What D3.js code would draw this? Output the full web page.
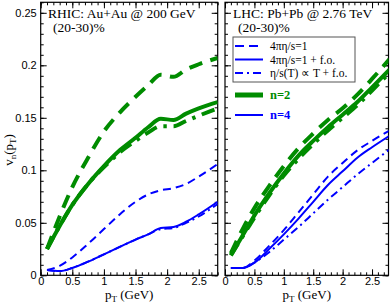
<!DOCTYPE html>
<html>
<head>
<meta charset="utf-8">
<script src="https://cdn.jsdelivr.net/npm/d3@7"></script>
<style>
  body { margin: 0; background: #fff; }
  svg { display: block; font-family: 'Liberation Serif', 'Times New Roman', serif; }
  .tick text { font-size: 11px; fill: #000; }
</style>
</head>
<body>
<div class="d3-wrapper"></div>
<script>
const WIDTH = 391, HEIGHT = 305;
const GREEN = '#008c00', BLUE = '#0000ff';

// RHIC Au+Au 200 GeV
const rhicPt = [0.1, 0.3, 0.5, 0.75, 1.0, 1.25, 1.5, 1.7, 1.9, 2.1, 2.3, 2.5, 2.8];
const rhicN2Ideal = [0.025, 0.056, 0.084, 0.112, 0.137, 0.155, 0.170, 0.181, 0.191, 0.189, 0.196, 0.201, 0.207];
const rhicN2Visc  = [0.025, 0.047, 0.067, 0.087, 0.104, 0.119, 0.131, 0.141, 0.149, 0.148, 0.154, 0.159, 0.165];
const rhicN2Tdep  = [0.025, 0.047, 0.067, 0.087, 0.103, 0.117, 0.128, 0.136, 0.142, 0.142, 0.147, 0.152, 0.159];
const rhicN4Ideal = [0.005, 0.009, 0.017, 0.030, 0.044, 0.058, 0.070, 0.077, 0.081, 0.083, 0.087, 0.094, 0.106];
const rhicN4Visc  = [0.005, 0.004, 0.007, 0.013, 0.020, 0.027, 0.034, 0.039, 0.045, 0.046, 0.051, 0.058, 0.070];
const rhicN4Tdep  = [0.005, 0.004, 0.007, 0.013, 0.020, 0.027, 0.034, 0.039, 0.044, 0.045, 0.050, 0.056, 0.068];

// LHC Pb+Pb 2.76 TeV
const lhcPt = [0.1, 0.3, 0.5, 0.75, 1.0, 1.25, 1.5, 1.75, 2.0, 2.25, 2.5, 2.8];
const lhcN2Ideal = [0.021, 0.044, 0.064, 0.085, 0.104, 0.121, 0.135, 0.148, 0.159, 0.172, 0.187, 0.206];
const lhcN2Visc  = [0.019, 0.038, 0.057, 0.078, 0.097, 0.114, 0.128, 0.141, 0.153, 0.165, 0.179, 0.196];
const lhcN2Tdep  = [0.019, 0.037, 0.055, 0.076, 0.095, 0.111, 0.125, 0.138, 0.150, 0.162, 0.176, 0.193];
const lhcN4Ideal = [0.007, 0.007, 0.014, 0.028, 0.043, 0.060, 0.077, 0.094, 0.107, 0.119, 0.128, 0.138];
const lhcN4Visc  = [0.007, 0.007, 0.012, 0.025, 0.039, 0.054, 0.070, 0.086, 0.099, 0.112, 0.122, 0.133];
const lhcN4Tdep  = [0.007, 0.007, 0.012, 0.022, 0.034, 0.046, 0.059, 0.072, 0.084, 0.096, 0.107, 0.120];

const yTicks = [0, 0.05, 0.1, 0.15, 0.2, 0.25];
const xTicks = [0, 0.5, 1, 1.5, 2, 2.5];
const legendLabels = ['4\u03c0\u03b7/s=1', '4\u03c0\u03b7/s=1 + f.o.', '\u03b7/s(T) \u221d T + f.o.'];

const STYLES = {
  ideal: '8,5',
  visc: null,
  tdep: '8,4,2,4'
};

const TOP = 2.3, BOTTOM = 275.3;
const yScale = d3.scaleLinear().domain([0, 0.26]).range([BOTTOM, TOP]);

const svg = d3.select('.d3-wrapper').append('svg')
  .attr('width', WIDTH).attr('height', HEIGHT);

function drawPanel(opts) {
  const x = d3.scaleLinear().domain(opts.xDomain).range(opts.xRange);
  const g = svg.append('g');
  const [x0, x1] = opts.xRange;
  const minorY = d3.range(0, 0.2601, 0.01);
  const minorX = d3.range(0, opts.xDomain[1] + 1e-6, 0.1);

  // inward ticks on all sides
  const tickSet = (axisFn, scale, vals, size, transform) => {
    g.append('g').attr('transform', transform)
      .call(axisFn(scale).tickValues(vals).tickSize(size).tickFormat('').tickSizeOuter(0))
      .call(a => a.select('.domain').remove());
  };
  tickSet(d3.axisRight, yScale, yTicks, 6, `translate(${x0},0)`);
  tickSet(d3.axisRight, yScale, minorY, 3, `translate(${x0},0)`);
  tickSet(d3.axisLeft, yScale, yTicks, 6, `translate(${x1},0)`);
  tickSet(d3.axisLeft, yScale, minorY, 3, `translate(${x1},0)`);
  tickSet(d3.axisTop, x, xTicks, 6, `translate(0,${BOTTOM})`);
  tickSet(d3.axisTop, x, minorX, 3, `translate(0,${BOTTOM})`);
  tickSet(d3.axisBottom, x, xTicks, 6, `translate(0,${TOP})`);
  tickSet(d3.axisBottom, x, minorX, 3, `translate(0,${TOP})`);

  // x labels
  g.append('g').attr('transform', `translate(0,${BOTTOM})`)
    .call(d3.axisBottom(x).tickValues(xTicks).tickSize(0).tickPadding(2).tickFormat(d3.format('')))
    .call(a => a.select('.domain').remove());

  if (opts.yLabels) {
    g.append('g').attr('transform', `translate(${x0},0)`)
      .call(d3.axisLeft(yScale).tickValues(yTicks).tickSize(0).tickPadding(4).tickFormat(d3.format('')))
      .call(a => a.select('.domain').remove());
  }

  g.append('rect')
    .attr('x', x0).attr('y', TOP)
    .attr('width', x1 - x0).attr('height', BOTTOM - TOP)
    .attr('fill', 'none').attr('stroke', '#000').attr('stroke-width', 1.2);

  const line = d3.line().x(d => x(d[0])).y(d => yScale(d[1])).curve(d3.curveMonotoneX);
  const clip = 'clip' + opts.id;
  svg.append('clipPath').attr('id', clip).append('rect')
    .attr('x', x0).attr('y', TOP).attr('width', x1 - x0).attr('height', BOTTOM - TOP);
  const curves = g.append('g').attr('clip-path', `url(#${clip})`);
  opts.series.forEach(s => {
    curves.append('path')
      .datum(opts.pt.map((p, i) => [p, s.values[i]]))
      .attr('d', line)
      .attr('fill', 'none')
      .attr('stroke', s.color)
      .attr('stroke-width', s.color === GREEN ? 4 : 2)
      .attr('stroke-dasharray', s.color === GREEN && STYLES[s.style]
        ? STYLES[s.style].split(',').map(v => v * 1.7).join(',')
        : STYLES[s.style]);
  });

  // x title
  const xt = g.append('text')
    .attr('x', (x0 + x1) / 2).attr('y', 299)
    .attr('text-anchor', 'middle').attr('font-size', 13);
  xt.append('tspan').text('p');
  xt.append('tspan').attr('font-size', 9).attr('dy', 3).text('T');
  xt.append('tspan').attr('dy', -3).text(' (GeV)');

  g.append('text').attr('x', opts.titleX).attr('y', 18).attr('font-size', 13.5).text(opts.title);
  g.append('text').attr('x', opts.titleX + 5).attr('y', 32).attr('font-size', 13.5).text('(20-30)%');
  return g;
}

drawPanel({
  id: 'rhic', xDomain: [0, 2.8], xRange: [40.7, 217.7], yLabels: true,
  title: 'RHIC: Au+Au @ 200 GeV', titleX: 48, pt: rhicPt,
  series: [
    { values: rhicN4Ideal, color: BLUE, style: 'ideal' },
    { values: rhicN4Tdep, color: BLUE, style: 'tdep' },
    { values: rhicN4Visc, color: BLUE, style: 'visc' },
    { values: rhicN2Ideal, color: GREEN, style: 'ideal' },
    { values: rhicN2Tdep, color: GREEN, style: 'tdep' },
    { values: rhicN2Visc, color: GREEN, style: 'visc' }
  ]
});

const right = drawPanel({
  id: 'lhc', xDomain: [0, 2.78], xRange: [225, 388.5], yLabels: false,
  title: 'LHC: Pb+Pb @ 2.76 TeV', titleX: 233, pt: lhcPt,
  series: [
    { values: lhcN4Ideal, color: BLUE, style: 'ideal' },
    { values: lhcN4Tdep, color: BLUE, style: 'tdep' },
    { values: lhcN4Visc, color: BLUE, style: 'visc' },
    { values: lhcN2Ideal, color: GREEN, style: 'ideal' },
    { values: lhcN2Tdep, color: GREEN, style: 'tdep' },
    { values: lhcN2Visc, color: GREEN, style: 'visc' }
  ]
});

// y title
const yt = svg.append('text')
  .attr('transform', 'translate(13,150) rotate(-90)')
  .attr('text-anchor', 'middle').attr('font-size', 13);
yt.append('tspan').text('v');
yt.append('tspan').attr('font-size', 9).attr('dy', 3).text('n');
yt.append('tspan').attr('dy', -3).text('(p');
yt.append('tspan').attr('font-size', 9).attr('dy', 3).text('T');
yt.append('tspan').attr('dy', -3).text(')');

// legend
const legend = right.append('g');
legend.append('rect')
  .attr('x', 233).attr('y', 37).attr('width', 122).attr('height', 45)
  .attr('fill', '#fff').attr('stroke', '#555').attr('stroke-width', 1);
['ideal', 'visc', 'tdep'].forEach((st, i) => {
  const y = 46 + i * 13.5;
  legend.append('line')
    .attr('x1', 235).attr('x2', 263).attr('y1', y).attr('y2', y)
    .attr('stroke', BLUE).attr('stroke-width', 2)
    .attr('stroke-dasharray', st === 'ideal' ? '9,5' : STYLES[st]);
  legend.append('text').attr('x', 270).attr('y', y + 4)
    .attr('font-size', 11.5).text(legendLabels[i]);
});
[['n=2', GREEN, 5, 95], ['n=4', BLUE, 2, 115]].forEach(([label, color, w, y]) => {
  legend.append('line')
    .attr('x1', 235).attr('x2', 263).attr('y1', y).attr('y2', y)
    .attr('stroke', color).attr('stroke-width', w);
  legend.append('text').attr('x', 270).attr('y', y + 4)
    .attr('font-size', 12.5).attr('font-weight', 'bold').attr('fill', color).text(label);
});
</script>
</body>
</html>
